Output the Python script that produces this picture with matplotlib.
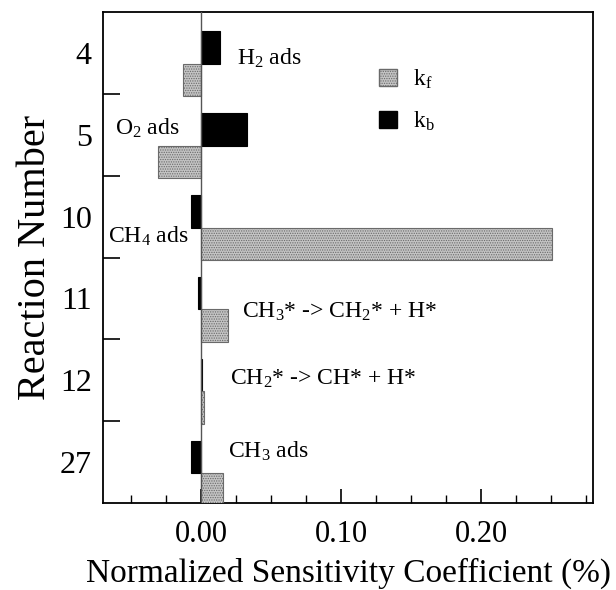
import numpy as np
import matplotlib
matplotlib.use('Agg')
import matplotlib.pyplot as plt
from matplotlib.ticker import MultipleLocator, FixedLocator, NullFormatter
from matplotlib.patches import Patch

plt.rcParams['font.family'] = 'Liberation Serif'
plt.rcParams['mathtext.fontset'] = 'custom'
plt.rcParams['mathtext.rm'] = 'Liberation Serif'
plt.rcParams['mathtext.it'] = 'Liberation Serif'
plt.rcParams['hatch.linewidth'] = 0.6

# reaction numbers, top to bottom
reactions = ['4', '5', '10', '11', '12', '27']
kf = [-0.013, -0.031, 0.2507, 0.019, 0.0023, 0.016]   # forward
kb = [0.0135, 0.0326, -0.0071, -0.0024, 0.001, -0.0074]  # backward

labels = ['H$_2$ ads', 'O$_2$ ads', 'CH$_4$ ads',
          'CH$_3$* -> CH$_2$* + H*', 'CH$_2$* -> CH* + H*', 'CH$_3$ ads']
label_x = [0.0257, -0.0613, -0.0663, 0.0292, 0.0207, 0.0192]
label_y = [0.148, 1.004, 2.324, 3.229, 4.048, 4.94]

fig = plt.figure(figsize=(6.16, 5.90), dpi=100)
ax = fig.add_axes([0.167, 0.147, 0.796, 0.833])

pos = np.arange(len(reactions))
h = 0.4
ax.barh(pos - 0.066, kb, height=h, color='black', edgecolor='black', lw=0.8, zorder=3)
ax.barh(pos + 0.334, kf, height=h, color='#c4c4c4', edgecolor='#6a6a6a',
        hatch='.......', lw=0.8, zorder=3)
ax.axvline(0, color='#555555', lw=1.0, zorder=4)

for t, x, y in zip(labels, label_x, label_y):
    ax.text(x, y, t, fontsize=17, va='baseline', ha='left')

ax.set_xlim(-0.07, 0.28)
ax.set_ylim(len(reactions) - 0.5, -0.5)

ax.xaxis.set_major_locator(FixedLocator([0.0, 0.1, 0.2]))
ax.xaxis.set_minor_locator(MultipleLocator(0.025))
ax.set_xticklabels(['0.00', '0.10', '0.20'])
ax.yaxis.set_major_locator(FixedLocator(pos[:-1] + 0.5))
ax.yaxis.set_major_formatter(NullFormatter())
ax.yaxis.set_minor_locator(FixedLocator(pos))
ax.set_yticklabels(reactions, minor=True)
ax.tick_params(axis='x', which='major', direction='in', length=10, width=1.2,
               labelsize=22, pad=12)
ax.tick_params(axis='x', which='minor', direction='in', length=6, width=1.0)
ax.tick_params(axis='y', which='major', direction='in', length=12, width=1.2)
ax.tick_params(axis='y', which='minor', length=0, labelsize=23, pad=8)
for s in ax.spines.values():
    s.set_linewidth(1.3)

ax.set_xlabel('Normalized Sensitivity Coefficient (%)', fontsize=24, labelpad=6)
ax.set_ylabel('Reaction Number', fontsize=29, labelpad=4)

handles = [Patch(facecolor='#c4c4c4', edgecolor='#6a6a6a', hatch='.......'),
           Patch(facecolor='black', edgecolor='black')]
ax.legend(handles, ['k$_\\mathrm{f}$', 'k$_\\mathrm{b}$'], loc='upper left',
          bbox_to_anchor=(0.52, 0.93), frameon=False, fontsize=17,
          handlelength=0.75, handleheight=0.75, labelspacing=0.8, handletextpad=0.7)

plt.savefig('out.png', dpi=100)
